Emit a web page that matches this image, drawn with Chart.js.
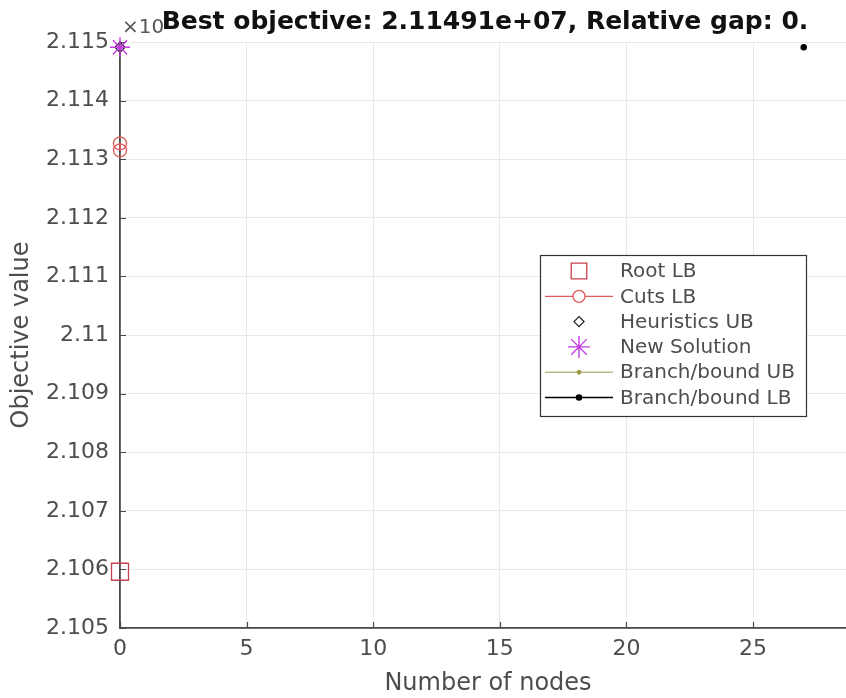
<!DOCTYPE html>
<html lang="en">
<head>
<meta charset="UTF-8">
<style>
body {
    margin: 0;
    background: #fff;
    overflow: hidden;
}
.chart-box {
    width: 846px;
    height: 698px;
}
</style>
</head>
<body>
<div class="chart-box">
<canvas id="bbChart"></canvas>
</div>
<script src="https://cdn.jsdelivr.net/npm/chart.js"></script>
<script>
// values in units of 1e7, as shown on the axis
const seriesNames = ['Root LB', 'Cuts LB', 'Heuristics UB', 'New Solution', 'Branch/bound UB', 'Branch/bound LB'];
const rootLBNodes = [0];
const rootLBValues = [2.10596];
const cutsLBNodes = [0, 0];
const cutsLBValues = [2.11315, 2.11327];
const heurUBNodes = [0];
const heurUBValues = [2.11491];
const newSolNodes = [0];
const newSolValues = [2.11491];
const bbUBNodes = [0];
const bbUBValues = [2.11491];
const bbLBNodes = [27];
const bbLBValues = [2.11491];
const xTicks = [0, 5, 10, 15, 20, 25];
const yTicks = [2.105, 2.106, 2.107, 2.108, 2.109, 2.11, 2.111, 2.112, 2.113, 2.114, 2.115];
const titleText = 'Best objective: 2.11491e+07, Relative gap: 0.';

const toPoints = (xs, ys) => xs.map((x, i) => ({x: x, y: ys[i]}));

const axisGray = '#4a4a4a';
const gridGray = '#e8e8e8';
const textGray = '#4d4d4d';

const styles = [
    {color: '#c8404c', style: 'rect', radius: 12, legendRadius: 11, line: false, width: 1.3, order: 5},
    {color: '#e05a5a', style: 'circle', radius: 6.5, legendRadius: 6, line: true, width: 1.3, order: 4},
    {color: '#222222', style: 'rectRot', radius: 5, legendRadius: 5, line: false, width: 1.3, order: 3},
    {color: '#c53de6', style: 'star', radius: 10, legendRadius: 11, line: false, width: 1.4, order: 0},
    {color: '#9a9a48', style: 'circle', radius: 2, legendRadius: 2, line: true, width: 1, order: 2},
    {color: '#000000', style: 'circle', radius: 2.5, legendRadius: 2.5, line: true, width: 1.5, order: 1}
];

const seriesPoints = [
    toPoints(rootLBNodes, rootLBValues),
    toPoints(cutsLBNodes, cutsLBValues),
    toPoints(heurUBNodes, heurUBValues),
    toPoints(newSolNodes, newSolValues),
    toPoints(bbUBNodes, bbUBValues),
    toPoints(bbLBNodes, bbLBValues)
];

const datasets = seriesNames.map((name, i) => {
    const s = styles[i];
    const filled = (i >= 4);
    return {
        label: name,
        data: seriesPoints[i],
        showLine: s.line,
        borderColor: s.color,
        backgroundColor: filled ? s.color : 'rgba(0,0,0,0)',
        pointBorderColor: s.color,
        pointBackgroundColor: filled ? s.color : 'rgba(255,255,255,0)',
        pointStyle: s.style,
        pointRadius: s.radius,
        pointBorderWidth: s.width,
        borderWidth: s.width,
        clip: false,
        order: s.order
    };
});

// matlab style inward ticks, title, exponent, axis titles and the boxed legend
const decorPlugin = {
    id: 'decor',
    beforeDatasetsDraw(chart) {
        const c = chart.ctx;
        const xs = chart.scales.x, ys = chart.scales.y;
        const area = chart.chartArea;
        c.save();
        c.strokeStyle = axisGray;
        c.lineWidth = 1.2;
        c.beginPath();
        xTicks.forEach(v => {
            const px = Math.round(xs.getPixelForValue(v)) + 0.5;
            c.moveTo(px, area.bottom);
            c.lineTo(px, area.bottom - 6);
        });
        yTicks.forEach(v => {
            const py = Math.round(ys.getPixelForValue(v)) + 0.5;
            c.moveTo(area.left, py);
            c.lineTo(area.left + 6, py);
        });
        c.stroke();
        c.restore();
    },
    afterDraw(chart) {
        const c = chart.ctx;
        c.save();
        c.fillStyle = '#555555';
        c.font = '20px "DejaVu Sans"';
        c.textAlign = 'left';
        c.textBaseline = 'alphabetic';
        c.fillText('\u00d710', 122, 33);

        c.fillStyle = '#111111';
        c.font = 'bold 25px "DejaVu Sans"';
        c.textAlign = 'center';
        c.fillText(titleText, 485, 29);

        c.fillStyle = textGray;
        c.font = '24px "DejaVu Sans"';
        c.fillText('Number of nodes', 488, 690);
        c.translate(28, 335);
        c.rotate(-Math.PI / 2);
        c.fillText('Objective value', 0, 0);
        c.restore();

        // legend
        c.save();
        const lx = 540, ly = 255, lw = 266, lh = 161;
        c.fillStyle = '#ffffff';
        c.fillRect(lx, ly, lw, lh);
        c.strokeStyle = '#333333';
        c.lineWidth = 1.2;
        c.strokeRect(lx + 0.5, ly + 0.5, lw, lh);
        c.font = '20px "DejaVu Sans"';
        c.textAlign = 'left';
        c.textBaseline = 'middle';
        seriesNames.forEach((name, i) => {
            const s = styles[i];
            const y = 271 + i * 25.3;
            if (s.line) {
                c.strokeStyle = s.color;
                c.lineWidth = s.width;
                c.beginPath();
                c.moveTo(545, y);
                c.lineTo(613, y);
                c.stroke();
            }
            c.strokeStyle = s.color;
            c.fillStyle = (i >= 4) ? s.color : '#ffffff';
            c.lineWidth = s.width;
            Chart.helpers.drawPoint(c, {
                pointStyle: s.style,
                radius: s.legendRadius,
                borderWidth: s.width
            }, 579, y);
            c.fillStyle = textGray;
            c.fillText(name, 620, y + 1);
        });
        c.restore();
    }
};

const ctx = document.getElementById('bbChart').getContext('2d');
const bbChart = new Chart(ctx, {
    type: 'scatter',
    data: {datasets: datasets},
    options: {
        responsive: true,
        maintainAspectRatio: false,
        animation: false,
        layout: {
            autoPadding: false,
            padding: {top: 42, right: 0, left: 0, bottom: 0}
        },
        scales: {
            x: {
                type: 'linear',
                min: 0,
                max: 28.67,
                afterBuildTicks: (scale) => {
                    scale.ticks = xTicks.map(v => ({value: v}));
                },
                afterFit: (scale) => {
                    scale.height = 70;
                    scale.paddingLeft = 0;
                    scale.paddingRight = 0;
                },
                grid: {
                    color: gridGray,
                    drawTicks: false
                },
                border: {
                    color: axisGray,
                    width: 1.8
                },
                ticks: {
                    padding: 8,
                    color: textGray,
                    font: {family: 'DejaVu Sans', size: 22},
                    maxRotation: 0
                }
            },
            y: {
                type: 'linear',
                min: 2.105,
                max: 2.115,
                afterBuildTicks: (scale) => {
                    scale.ticks = yTicks.map(v => ({value: v}));
                },
                afterFit: (scale) => {
                    scale.width = 120;
                },
                grid: {
                    color: gridGray,
                    drawTicks: false
                },
                border: {
                    color: axisGray,
                    width: 1.8
                },
                ticks: {
                    padding: 11,
                    color: textGray,
                    font: {family: 'DejaVu Sans', size: 22},
                    callback: (v) => String(Number(v.toFixed(3)))
                }
            }
        },
        plugins: {
            legend: {display: false},
            tooltip: {enabled: false},
            title: {display: false}
        }
    },
    plugins: [decorPlugin]
});
</script>
</body>
</html>
